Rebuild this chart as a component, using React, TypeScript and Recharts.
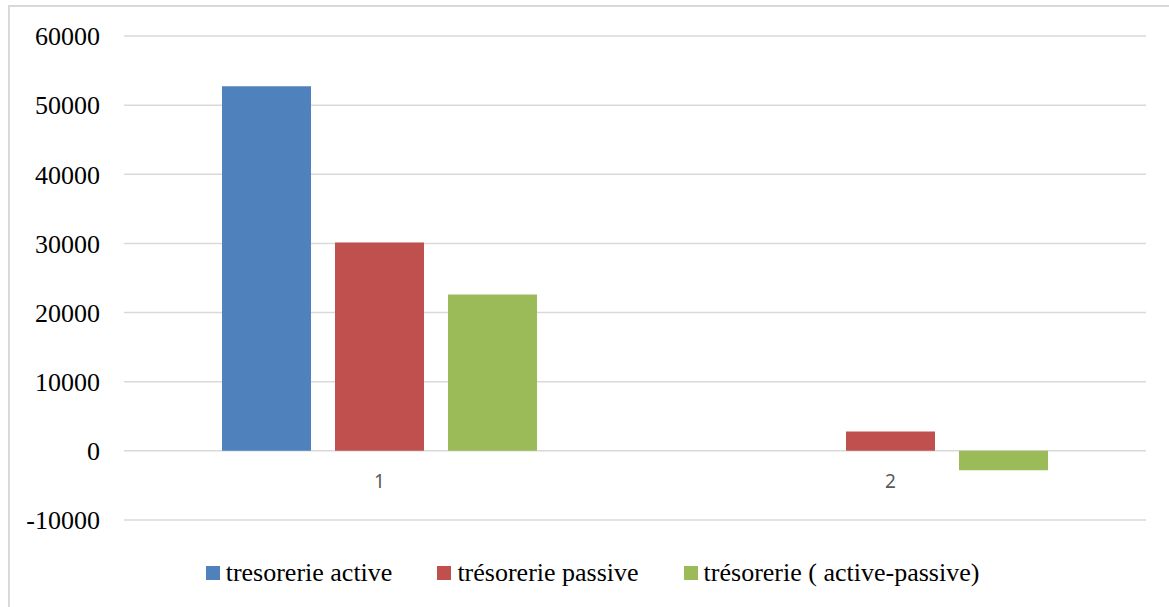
import { BarChart, Bar, XAxis, YAxis, CartesianGrid, Legend, ReferenceDot } from "recharts"

const categories = ["1", "2"]
const tresorerieActive = [52750, 0]
const tresoreriePassive = [30150, 2800]
const tresorerieSolde = [22600, -2800]
const yTicks = [-10000, 0, 10000, 20000, 30000, 40000, 50000, 60000]

const seriesNames = ["tresorerie active", "trésorerie passive", "trésorerie ( active-passive)"]
const seriesColors = ["#4F81BD", "#C0504D", "#9BBB59"]

const data = categories.map((cat, i) => ({
  cat,
  active: tresorerieActive[i],
  passive: tresoreriePassive[i],
  solde: tresorerieSolde[i],
}))

const serif = '"Liberation Serif", "Times New Roman", serif'

// keep the legend in series order rather than alphabetical
function LegendContent({ payload }: any) {
  const items = [...(payload || [])].sort(
    (a: any, b: any) => seriesNames.indexOf(a.value) - seriesNames.indexOf(b.value)
  )
  return (
    <div style={{ display: "flex", justifyContent: "center", alignItems: "center", height: 50, paddingLeft: 16 }}>
      {items.map((entry: any, i: number) => (
        <div
          key={entry.value}
          style={{ display: "flex", alignItems: "center", marginRight: i < items.length - 1 ? 45 : 0 }}
        >
          <span style={{ display: "inline-block", width: 14, height: 14, background: entry.color, marginRight: 6 }} />
          <span style={{ fontFamily: serif, fontSize: 26, color: "#000", lineHeight: "30px" }}>{entry.value}</span>
        </div>
      ))}
    </div>
  )
}

export default function App() {
  return (
    <div style={{ position: "absolute", left: 0, top: 0, width: 1169, height: 607, background: "#fff", overflow: "hidden" }}>
      <div
        style={{
          position: "absolute",
          left: 8,
          top: 5,
          width: 1180,
          height: 620,
          border: "2px solid #d9d9d9",
          boxSizing: "border-box",
        }}
      />
      <BarChart
        width={1169}
        height={607}
        data={data}
        margin={{ top: 36, right: 23, left: 0, bottom: 9 }}
        barSize={89}
        barGap={24}
      >
        <CartesianGrid vertical={false} stroke="#d9d9d9" strokeWidth={1.5} />
        <XAxis dataKey="cat" height={28} tick={false} axisLine={false} tickLine={false} />
        <YAxis
          width={124}
          domain={[-10000, 60000]}
          ticks={yTicks}
          interval={0}
          axisLine={false}
          tickLine={false}
          tickMargin={18}
          tick={{ fill: "#000", fontSize: 26, fontFamily: serif }}
        />
        <Legend verticalAlign="bottom" content={<LegendContent />} wrapperStyle={{ left: 0, width: 1169 }} />
        <Bar dataKey="active" name={seriesNames[0]} fill={seriesColors[0]} isAnimationActive={false} />
        <Bar dataKey="passive" name={seriesNames[1]} fill={seriesColors[1]} isAnimationActive={false} />
        <Bar dataKey="solde" name={seriesNames[2]} fill={seriesColors[2]} isAnimationActive={false} />
        {categories.map((cat) => (
          <ReferenceDot
            key={cat}
            x={cat}
            y={0}
            r={0}
            fill="none"
            stroke="none"
            label={{
              value: cat,
              position: "bottom",
              offset: 24,
              fill: "#595959",
              fontSize: 19,
              fontFamily: '"Noto Sans", "Open Sans", sans-serif',
            }}
          />
        ))}
      </BarChart>
    </div>
  )
}
